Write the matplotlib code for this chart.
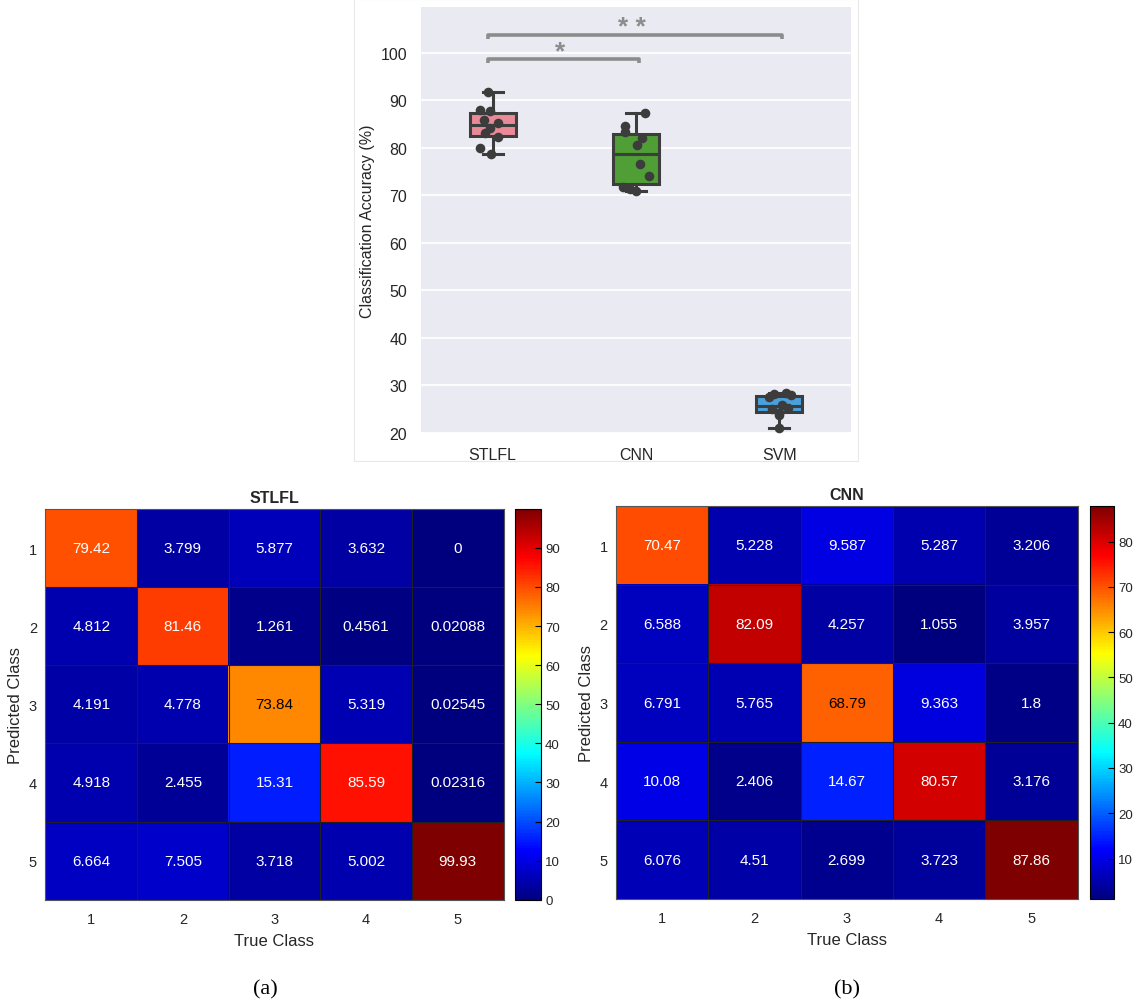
import numpy as np
import matplotlib
matplotlib.use("Agg")
import matplotlib.pyplot as plt
from matplotlib.patches import Rectangle
from matplotlib.colors import LinearSegmentedColormap

plt.rcParams['font.family'] = ['Liberation Sans', 'DejaVu Sans']

# ---- box plot data (accuracy per fold) ----
methods = ['STLFL', 'CNN', 'SVM']
acc_stlfl = [91.8, 87.9, 87.7, 85.8, 85.2, 84.2, 83.2, 82.2, 79.9, 78.7]
acc_cnn = [87.4, 84.6, 83.3, 82.0, 80.6, 76.6, 74.0, 71.7, 71.4, 70.8]
acc_svm = [28.5, 28.2, 27.9, 27.5, 25.9, 25.3, 25.1, 24.3, 23.7, 21.0]
# strip-plot jitter as seen in the picture
jit_stlfl = [-0.03, -0.09, -0.02, -0.06, 0.04, -0.02, -0.05, 0.04, -0.09, -0.01]
jit_cnn = [0.06, -0.08, -0.08, 0.04, 0.01, 0.03, 0.09, -0.09, -0.04, 0.0]
jit_svm = [0.05, -0.04, 0.08, -0.07, 0.02, 0.06, -0.05, 0.0, 0.0, 0.0]
box_colors = ['#E98A98', '#4F9E36', '#4AA0DC']

sig_pairs = [(0, 1), (0, 2)]
sig_level = [98.7, 103.8]
sig_marks = ['*', '* *']

# ---- confusion matrices ----
classes = ['1', '2', '3', '4', '5']
cm_stlfl = [[79.42, 3.799, 5.877, 3.632, 0],
            [4.812, 81.46, 1.261, 0.4561, 0.02088],
            [4.191, 4.778, 73.84, 5.319, 0.02545],
            [4.918, 2.455, 15.31, 85.59, 0.02316],
            [6.664, 7.505, 3.718, 5.002, 99.93]]
cm_cnn = [[70.47, 5.228, 9.587, 5.287, 3.206],
          [6.588, 82.09, 4.257, 1.055, 3.957],
          [6.791, 5.765, 68.79, 9.363, 1.8],
          [10.08, 2.406, 14.67, 80.57, 3.176],
          [6.076, 4.51, 2.699, 3.723, 87.86]]

# MATLAB style jet
jet = LinearSegmentedColormap.from_list('mjet', [
    (0.0, (0, 0, 0.5)), (0.125, (0, 0, 1)), (0.375, (0, 1, 1)),
    (0.625, (1, 1, 0)), (0.875, (1, 0, 0)), (1.0, (0.5, 0, 0))])

W, H = 1140, 1004
fig = plt.figure(figsize=(W / 100, H / 100), dpi=100)


def px(x0, y0, x1, y1):
    return [x0 / W, 1 - y1 / H, (x1 - x0) / W, (y1 - y0) / H]


# faint frame of the embedded box plot
fig.add_artist(Rectangle((354 / W, 1 - 462 / H), 504 / W, 462 / H,
                         transform=fig.transFigure, fill=False,
                         edgecolor='#E8E8E8', lw=0.8))

# ---------------- box plot ----------------
ax = fig.add_axes(px(421, 8, 851, 434))
ax.set_facecolor('#EAEAF2')
for s in ax.spines.values():
    s.set_visible(False)
ax.yaxis.grid(True, color='white', lw=1.3)
ax.set_axisbelow(True)

data = [acc_stlfl, acc_cnn, acc_svm]
jits = [jit_stlfl, jit_cnn, jit_svm]
edge = '#3D3D3D'
bp = ax.boxplot(data, positions=[0, 1, 2], widths=0.32, patch_artist=True,
                showfliers=False, capwidths=0.14,
                boxprops=dict(edgecolor=edge, lw=2.2),
                medianprops=dict(color=edge, lw=2.2),
                whiskerprops=dict(color=edge, lw=2.2),
                capprops=dict(color=edge, lw=2.2))
for patch, c in zip(bp['boxes'], box_colors):
    patch.set_facecolor(c)

for i, (vals, jit) in enumerate(zip(data, jits)):
    ax.scatter(np.array(jit) + i, vals, s=48, color='#3C3C3C', zorder=4,
               linewidths=0)

for (i, j), lvl, mark in zip(sig_pairs, sig_level, sig_marks):
    ax.plot([i - 0.035, i - 0.035, j + 0.02, j + 0.02],
            [lvl - 0.9, lvl, lvl, lvl - 0.9], color='#8C8C8C', lw=2.6,
            solid_capstyle='butt')
    ax.text((i + j) / 2 - 0.03, lvl - 0.9, mark, ha='center', va='bottom',
            fontsize=19, color='#8C8C8C', fontweight='bold')

ax.set_xlim(-0.5, 2.5)
ax.set_ylim(20, 109.6)
ax.set_yticks(range(20, 101, 10))
ax.set_xticks([0, 1, 2])
ax.set_xticklabels(methods)
ax.tick_params(length=0, labelsize=11.5, colors='#262626', pad=10)
ax.set_ylabel('Classification Accuracy (%)', fontsize=11.5,
              color='#262626', labelpad=4)

# ---------------- confusion matrices ----------------
panels = [
    (cm_stlfl, 'STLFL', px(45.4, 510, 503.6, 900.7), px(515.4, 510, 541, 900.7),
     range(0, 100, 10)),
    (cm_cnn, 'CNN', px(616, 507, 1077.6, 900), px(1090, 507, 1114, 900),
     range(10, 90, 10)),
]

for cm, title, rect, crect, cticks in panels:
    cm = np.array(cm)
    vmin, vmax = cm.min(), cm.max()
    hax = fig.add_axes(rect)
    im = hax.imshow(cm, cmap=jet, vmin=vmin, vmax=vmax, aspect='auto')
    for k in range(1, len(classes)):
        hax.axhline(k - 0.5, color='#202020', lw=0.8)
        hax.axvline(k - 0.5, color='#202020', lw=0.8)
    for r in range(cm.shape[0]):
        for c in range(cm.shape[1]):
            v = cm[r, c]
            rgb = jet((v - vmin) / (vmax - vmin))
            lum = 0.299 * rgb[0] + 0.587 * rgb[1] + 0.114 * rgb[2]
            hax.text(c, r, '%.4g' % v, ha='center', va='center', fontsize=11,
                     color='black' if lum > 0.5 else 'white')
    hax.set_xticks(range(len(classes)))
    hax.set_yticks(range(len(classes)))
    hax.set_xticklabels(classes)
    hax.set_yticklabels(classes)
    hax.tick_params(length=0, labelsize=10.5, colors='#262626')
    hax.tick_params(axis='x', pad=9)
    hax.tick_params(axis='y', pad=6)
    for s in hax.spines.values():
        s.set_color('#555555')
        s.set_linewidth(0.8)
    hax.set_xlabel('True Class', fontsize=12, color='#262626', labelpad=5)
    hax.set_ylabel('Predicted Class', fontsize=12, color='#262626', labelpad=4)
    hax.set_title(title, fontsize=11.5, fontweight='bold', color='#262626', pad=5)

    cax = fig.add_axes(crect)
    cb = fig.colorbar(im, cax=cax)
    cb.set_ticks(list(cticks))
    cb.outline.set_edgecolor('black')
    cb.outline.set_linewidth(0.8)
    cax.tick_params(direction='in', length=4, width=0.8, labelsize=9.5,
                    colors='#262626', pad=3)
    cax.tick_params(axis='y', color='black')

fig.text(265 / W, 1 - 990 / H, '(a)', ha='center', va='center', fontsize=16,
         family='Liberation Serif')
fig.text(847 / W, 1 - 990 / H, '(b)', ha='center', va='center', fontsize=16,
         family='Liberation Serif')

fig.savefig('out.png', dpi=100, facecolor='white')
